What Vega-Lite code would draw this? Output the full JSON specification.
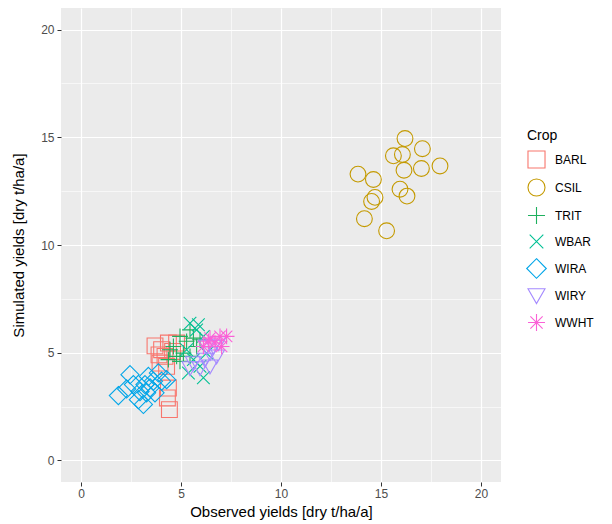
{
  "$schema": "https://vega.github.io/schema/vega-lite/v6.json",
  "width": 440,
  "height": 474,
  "autosize": {"type": "none"},
  "padding": {"left": 61, "top": 8, "right": 111, "bottom": 42},
  "background": "white",
  "config": {
    "font": "Liberation Sans",
    "view": {"fill": "#EBEBEB", "stroke": null},
    "axis": {
      "domain": false,
      "gridColor": "white",
      "labelColor": "#4D4D4D",
      "labelFontSize": 12,
      "tickColor": "#333333",
      "tickSize": 4,
      "titleColor": "black",
      "titleFontSize": 15,
      "titleFontWeight": "normal"
    }
  },
  "data": {
    "values": [
      {"obs": 16.2, "sim": 14.94, "crop": "CSIL"},
      {"obs": 17.07, "sim": 14.47, "crop": "CSIL"},
      {"obs": 15.62, "sim": 14.14, "crop": "CSIL"},
      {"obs": 16.07, "sim": 14.2, "crop": "CSIL"},
      {"obs": 13.85, "sim": 13.29, "crop": "CSIL"},
      {"obs": 14.62, "sim": 13.04, "crop": "CSIL"},
      {"obs": 16.15, "sim": 13.47, "crop": "CSIL"},
      {"obs": 17.02, "sim": 13.55, "crop": "CSIL"},
      {"obs": 17.95, "sim": 13.67, "crop": "CSIL"},
      {"obs": 15.95, "sim": 12.59, "crop": "CSIL"},
      {"obs": 16.3, "sim": 12.27, "crop": "CSIL"},
      {"obs": 14.7, "sim": 12.21, "crop": "CSIL"},
      {"obs": 14.53, "sim": 12.02, "crop": "CSIL"},
      {"obs": 14.17, "sim": 11.22, "crop": "CSIL"},
      {"obs": 15.28, "sim": 10.66, "crop": "CSIL"},

      {"obs": 3.7, "sim": 5.32, "crop": "BARL"},
      {"obs": 4.37, "sim": 5.45, "crop": "BARL"},
      {"obs": 4.03, "sim": 5.14, "crop": "BARL"},
      {"obs": 4.2, "sim": 4.83, "crop": "BARL"},
      {"obs": 4.28, "sim": 4.37, "crop": "BARL"},
      {"obs": 4.42, "sim": 2.36, "crop": "BARL"},
      {"obs": 4.32, "sim": 2.9, "crop": "BARL"},
      {"obs": 4.37, "sim": 3.36, "crop": "BARL"},
      {"obs": 3.95, "sim": 4.52, "crop": "BARL"},
      {"obs": 4.58, "sim": 5.06, "crop": "BARL"},
      {"obs": 4.78, "sim": 5.45, "crop": "BARL"},
      {"obs": 3.9, "sim": 4.9, "crop": "BARL"},

      {"obs": 4.62, "sim": 5.29, "crop": "TRIT"},
      {"obs": 4.95, "sim": 5.76, "crop": "TRIT"},
      {"obs": 5.28, "sim": 5.53, "crop": "TRIT"},
      {"obs": 5.45, "sim": 6.06, "crop": "TRIT"},
      {"obs": 5.62, "sim": 5.68, "crop": "TRIT"},
      {"obs": 5.78, "sim": 5.29, "crop": "TRIT"},
      {"obs": 5.12, "sim": 4.98, "crop": "TRIT"},
      {"obs": 4.78, "sim": 4.83, "crop": "TRIT"},
      {"obs": 5.45, "sim": 4.83, "crop": "TRIT"},
      {"obs": 4.45, "sim": 5.14, "crop": "TRIT"},
      {"obs": 5.95, "sim": 5.6, "crop": "TRIT"},
      {"obs": 4.95, "sim": 4.6, "crop": "TRIT"},
      {"obs": 4.37, "sim": 4.68, "crop": "TRIT"},

      {"obs": 5.45, "sim": 6.37, "crop": "WBAR"},
      {"obs": 5.78, "sim": 6.06, "crop": "WBAR"},
      {"obs": 6.12, "sim": 5.76, "crop": "WBAR"},
      {"obs": 5.62, "sim": 4.68, "crop": "WBAR"},
      {"obs": 5.37, "sim": 4.06, "crop": "WBAR"},
      {"obs": 6.12, "sim": 3.84, "crop": "WBAR"},
      {"obs": 5.95, "sim": 4.37, "crop": "WBAR"},
      {"obs": 6.28, "sim": 4.98, "crop": "WBAR"},
      {"obs": 5.28, "sim": 5.14, "crop": "WBAR"},
      {"obs": 5.87, "sim": 6.3, "crop": "WBAR"},

      {"obs": 1.87, "sim": 3.01, "crop": "WIRA"},
      {"obs": 2.45, "sim": 3.98, "crop": "WIRA"},
      {"obs": 2.62, "sim": 3.52, "crop": "WIRA"},
      {"obs": 2.28, "sim": 3.32, "crop": "WIRA"},
      {"obs": 2.87, "sim": 2.82, "crop": "WIRA"},
      {"obs": 3.12, "sim": 2.6, "crop": "WIRA"},
      {"obs": 3.37, "sim": 3.9, "crop": "WIRA"},
      {"obs": 3.2, "sim": 3.52, "crop": "WIRA"},
      {"obs": 3.45, "sim": 3.37, "crop": "WIRA"},
      {"obs": 3.62, "sim": 3.68, "crop": "WIRA"},
      {"obs": 3.87, "sim": 4.06, "crop": "WIRA"},
      {"obs": 4.03, "sim": 3.68, "crop": "WIRA"},
      {"obs": 3.28, "sim": 3.14, "crop": "WIRA"},
      {"obs": 2.95, "sim": 3.2, "crop": "WIRA"},
      {"obs": 4.28, "sim": 3.75, "crop": "WIRA"},
      {"obs": 3.7, "sim": 3.14, "crop": "WIRA"},

      {"obs": 5.62, "sim": 4.52, "crop": "WIRY"},
      {"obs": 5.95, "sim": 4.29, "crop": "WIRY"},
      {"obs": 6.2, "sim": 4.68, "crop": "WIRY"},
      {"obs": 6.45, "sim": 4.98, "crop": "WIRY"},
      {"obs": 6.28, "sim": 5.29, "crop": "WIRY"},
      {"obs": 6.62, "sim": 5.29, "crop": "WIRY"},
      {"obs": 6.78, "sim": 4.83, "crop": "WIRY"},
      {"obs": 5.45, "sim": 4.29, "crop": "WIRY"},
      {"obs": 6.45, "sim": 4.37, "crop": "WIRY"},
      {"obs": 6.87, "sim": 5.45, "crop": "WIRY"},

      {"obs": 6.45, "sim": 5.68, "crop": "WWHT"},
      {"obs": 6.95, "sim": 5.76, "crop": "WWHT"},
      {"obs": 7.28, "sim": 5.76, "crop": "WWHT"},
      {"obs": 6.7, "sim": 5.45, "crop": "WWHT"},
      {"obs": 6.12, "sim": 5.29, "crop": "WWHT"},
      {"obs": 7.03, "sim": 5.29, "crop": "WWHT"},
      {"obs": 6.37, "sim": 5.53, "crop": "WWHT"}
    ]
  },
  "mark": {"type": "point", "filled": false, "strokeWidth": 1.1, "size": 250, "opacity": 1},
  "encoding": {
    "x": {
      "field": "obs", "type": "quantitative",
      "scale": {"domain": [-1, 21], "nice": false, "zero": false},
      "axis": {
        "title": "Observed yields [dry t/ha/a]",
        "values": [0, 2.5, 5, 7.5, 10, 12.5, 15, 17.5, 20],
        "labelExpr": "datum.value % 5 === 0 ? datum.label : ''",
        "tickOpacity": {"condition": {"test": "datum.value % 5 === 0", "value": 1}, "value": 0},
        "gridWidth": {"condition": {"test": "datum.value % 5 === 0", "value": 1.2}, "value": 0.6},
        "labelPadding": 2,
        "titlePadding": 5
      }
    },
    "y": {
      "field": "sim", "type": "quantitative",
      "scale": {"domain": [-1, 21], "nice": false, "zero": false},
      "axis": {
        "title": "Simulated yields [dry t/ha/a]",
        "values": [0, 2.5, 5, 7.5, 10, 12.5, 15, 17.5, 20],
        "labelExpr": "datum.value % 5 === 0 ? datum.label : ''",
        "tickOpacity": {"condition": {"test": "datum.value % 5 === 0", "value": 1}, "value": 0},
        "gridWidth": {"condition": {"test": "datum.value % 5 === 0", "value": 1.2}, "value": 0.6},
        "labelPadding": 3,
        "titlePadding": 14
      }
    },
    "color": {
      "field": "crop", "type": "nominal",
      "scale": {
        "domain": ["BARL", "CSIL", "TRIT", "WBAR", "WIRA", "WIRY", "WWHT"],
        "range": ["#F8766D", "#C49A00", "#1FB05E", "#00C094", "#00A5E8", "#A58AFF", "#FB61D7"]
      },
      "legend": {
        "title": "Crop",
        "orient": "none",
        "legendX": 466,
        "legendY": 121,
        "titleFontSize": 14,
        "titleFontWeight": "normal",
        "titleColor": "black",
        "labelFontSize": 12,
        "labelColor": "black",
        "symbolSize": 290,
        "symbolStrokeWidth": 1.1,
        "symbolFillColor": "transparent",
        "rowPadding": 5,
        "labelOffset": 9,
        "titlePadding": 7
      }
    },
    "shape": {
      "field": "crop", "type": "nominal",
      "scale": {
        "domain": ["BARL", "CSIL", "TRIT", "WBAR", "WIRA", "WIRY", "WWHT"],
        "range": [
          "square",
          "circle",
          "M-1,0L1,0M0,-1L0,1",
          "M-0.8,-0.8L0.8,0.8M-0.8,0.8L0.8,-0.8",
          "M0,-1.15L1.15,0L0,1.15L-1.15,0Z",
          "M-1,-0.8L1,-0.8L0,0.95Z",
          "M-1,0L1,0M0,-1L0,1M-0.72,-0.72L0.72,0.72M-0.72,0.72L0.72,-0.72"
        ]
      }
    }
  }
}
